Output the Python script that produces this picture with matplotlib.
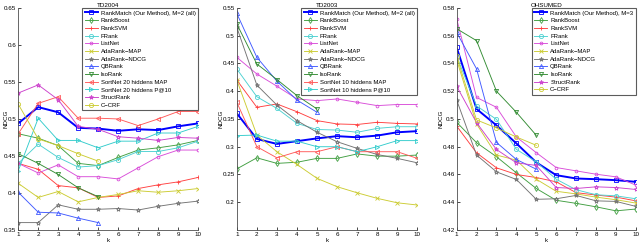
import numpy as np
import matplotlib
matplotlib.use('Agg')
import matplotlib.pyplot as plt
from matplotlib.ticker import FuncFormatter

# eixo k (NDCG@k)
k = [1, 2, 3, 4, 5, 6, 7, 8, 9, 10]
k5 = [1, 2, 3, 4, 5]

# ---------------- TD2004 ----------------
td04_rankmatch = [0.494, 0.516, 0.509, 0.488, 0.487, 0.484, 0.486, 0.485, 0.490, 0.494]
td04_rankboost = [0.480, 0.474, 0.464, 0.440, 0.437, 0.448, 0.458, 0.461, 0.465, 0.471]
td04_ranksvm = [0.440, 0.432, 0.410, 0.407, 0.394, 0.396, 0.406, 0.411, 0.415, 0.421]
td04_frank = [0.440, 0.466, 0.448, 0.435, 0.437, 0.445, 0.456, 0.456, 0.461, 0.470]
td04_listnet = [0.440, 0.427, 0.438, 0.422, 0.422, 0.419, 0.434, 0.449, 0.458, 0.458]
td04_adamap = [0.413, 0.394, 0.402, 0.388, 0.394, 0.398, 0.403, 0.401, 0.403, 0.406]
td04_adandcg = [0.360, 0.360, 0.384, 0.378, 0.378, 0.379, 0.377, 0.382, 0.386, 0.389]
td04_qbrank = [0.401, 0.374, 0.373, 0.366, 0.360]
td04_isorank = [0.453, 0.440, 0.425, 0.407, 0.395]
td04_sortmap = [0.480, 0.521, 0.530, 0.501, 0.501, 0.500, 0.491, 0.500, 0.510, 0.510]
td04_sortp10 = [0.430, 0.501, 0.471, 0.471, 0.461, 0.470, 0.470, 0.481, 0.481, 0.490]
td04_struct = [0.535, 0.546, 0.526, 0.490, 0.486, 0.476, 0.474, 0.471, 0.475, 0.474]
td04_ccrf = [0.520, 0.473, 0.464, 0.453, 0.443]

# ---------------- TD2003 ----------------
td03_rankmatch = [0.360, 0.314, 0.305, 0.310, 0.315, 0.319, 0.317, 0.320, 0.326, 0.328]
td03_rankboost = [0.260, 0.280, 0.270, 0.272, 0.279, 0.279, 0.287, 0.283, 0.283, 0.285]
td03_ranksvm = [0.420, 0.371, 0.377, 0.363, 0.347, 0.341, 0.340, 0.344, 0.342, 0.341]
td03_frank = [0.440, 0.390, 0.369, 0.342, 0.331, 0.330, 0.326, 0.333, 0.336, 0.336]
td03_listnet = [0.461, 0.431, 0.409, 0.386, 0.383, 0.386, 0.380, 0.374, 0.376, 0.376]
td03_adamap = [0.420, 0.321, 0.291, 0.268, 0.243, 0.228, 0.217, 0.207, 0.199, 0.195]
td03_adandcg = [0.515, 0.411, 0.375, 0.347, 0.326, 0.309, 0.297, 0.286, 0.279, 0.271]
td03_qbrank = [0.540, 0.461, 0.418, 0.384, 0.362]
td03_isorank = [0.521, 0.449, 0.421, 0.392, 0.368]
td03_sortmap = [0.380, 0.300, 0.280, 0.291, 0.291, 0.300, 0.291, 0.291, 0.291, 0.279]
td03_sortp10 = [0.320, 0.321, 0.310, 0.310, 0.300, 0.300, 0.291, 0.300, 0.311, 0.311]

# ---------------- OHSUMED ----------------
oh_rankmatch = [0.5516, 0.5072, 0.4954, 0.4824, 0.4687, 0.4595, 0.4571, 0.4566, 0.4559, 0.4547]
oh_rankboost = [0.4976, 0.4829, 0.4728, 0.4612, 0.4499, 0.4414, 0.4392, 0.4367, 0.4338, 0.4351]
oh_ranksvm = [0.4949, 0.4756, 0.4648, 0.4600, 0.4578, 0.4547, 0.4469, 0.4452, 0.4437, 0.4410]
oh_frank = [0.5451, 0.5094, 0.4997, 0.4781, 0.4691, 0.4566, 0.4490, 0.4454, 0.4446, 0.4425]
oh_listnet = [0.5723, 0.5155, 0.5084, 0.4870, 0.4757, 0.4650, 0.4626, 0.4602, 0.4583, 0.4523]
oh_adamap = [0.5426, 0.4964, 0.4740, 0.4703, 0.4566, 0.4479, 0.4460, 0.4437, 0.4418, 0.4394]
oh_adandcg = [0.5137, 0.4740, 0.4619, 0.4564, 0.4421, 0.4425, 0.4449, 0.4410, 0.4406, 0.4370]
oh_qbrank = [0.5624, 0.5361, 0.4831, 0.4708, 0.4638]
oh_isorank = [0.5650, 0.5564, 0.5200, 0.5048, 0.4882]
oh_struct = [0.5236, 0.4973, 0.4780, 0.4684, 0.4665, 0.4506, 0.4499, 0.4511, 0.4506, 0.4492]
oh_ccrf = [0.5451, 0.4993, 0.4935, 0.4870, 0.4810]

# estilos (cor, marcador) de cada metodo
BLUE = (0.0, 0.0, 1.0)
styles = {
    'rankmatch': (BLUE, 's'),
    'rankboost': ((0.25, 0.62, 0.25), 'd'),
    'ranksvm': ((1.0, 0.25, 0.25), '+'),
    'frank': ((0.3, 0.82, 0.82), 'o'),
    'listnet': ((0.85, 0.3, 0.85), '.'),
    'adamap': ((0.8, 0.8, 0.2), 'x'),
    'adandcg': ((0.45, 0.45, 0.45), '*'),
    'qbrank': ((0.25, 0.35, 1.0), '^'),
    'isorank': ((0.2, 0.55, 0.2), 'v'),
    'sortmap': ((1.0, 0.35, 0.35), '<'),
    'sortp10': ((0.2, 0.8, 0.8), '>'),
    'struct': ((0.8, 0.25, 0.8), '*'),
    'ccrf': ((0.8, 0.8, 0.2), 'o'),
}

FS = 4.5
FS_LEG = 4.3


def plot_line(ax, x, y, key, label):
    cor, mk = styles[key]
    lw = 1.4 if key == 'rankmatch' else 0.65
    ms = 3.0 if mk not in ('.', '+', 'x', '*') else 3.2
    if mk == '.':
        ms = 4.0
    ax.plot(x, y, color=cor, marker=mk, lw=lw, ms=ms, mew=0.6,
            mfc='none', label=label)


def setup_axes(ax, titulo, ylim, yticks, ylab_x):
    ax.set_xlim(1, 10)
    ax.set_ylim(*ylim)
    ax.set_xticks(k)
    ax.set_yticks(yticks)
    ax.yaxis.set_major_formatter(FuncFormatter(lambda v, p: '%g' % round(v, 3)))
    ax.tick_params(direction='in', length=2, width=0.5, labelsize=FS, pad=1.5)
    for s in ['top', 'right']:
        ax.spines[s].set_visible(False)
    for s in ['left', 'bottom']:
        ax.spines[s].set_linewidth(0.6)
        ax.spines[s].set_color('0.3')
    ax.set_title(titulo, fontsize=FS, pad=1)
    ax.set_xlabel('k', fontsize=FS, labelpad=0.5)
    ax.set_ylabel('NDCG', fontsize=FS)
    ax.yaxis.set_label_coords(ylab_x, 0.5)
    leg = ax.legend(loc='upper right', fontsize=FS_LEG, frameon=True, fancybox=False,
                    borderaxespad=0, handlelength=2.2, handletextpad=0.5,
                    labelspacing=0.42, borderpad=0.42)
    leg.get_frame().set_edgecolor('0.2')
    leg.get_frame().set_linewidth(0.8)


def main():
    plt.rcParams['font.family'] = ['Liberation Sans', 'DejaVu Sans']
    fig = plt.figure(figsize=(6.4, 2.43), dpi=100)
    ax1 = fig.add_axes([0.0285, 0.0535, 0.281, 0.914])
    ax2 = fig.add_axes([0.370, 0.0535, 0.282, 0.914])
    ax3 = fig.add_axes([0.7135, 0.0535, 0.280, 0.914])

    # TD2004
    plot_line(ax1, k, td04_rankmatch, 'rankmatch', 'RankMatch (Our Method), M=2 (all)')
    plot_line(ax1, k, td04_rankboost, 'rankboost', 'RankBoost')
    plot_line(ax1, k, td04_ranksvm, 'ranksvm', 'RankSVM')
    plot_line(ax1, k, td04_frank, 'frank', 'FRank')
    plot_line(ax1, k, td04_listnet, 'listnet', 'ListNet')
    plot_line(ax1, k, td04_adamap, 'adamap', 'AdaRank\u2212MAP')
    plot_line(ax1, k, td04_adandcg, 'adandcg', 'AdaRank\u2212NDCG')
    plot_line(ax1, k5, td04_qbrank, 'qbrank', 'QBRank')
    plot_line(ax1, k5, td04_isorank, 'isorank', 'IsoRank')
    plot_line(ax1, k, td04_sortmap, 'sortmap', 'SortNet 20 hiddens MAP')
    plot_line(ax1, k, td04_sortp10, 'sortp10', 'SortNet 20 hiddens P@10')
    plot_line(ax1, k, td04_struct, 'struct', 'StructRank')
    plot_line(ax1, k5, td04_ccrf, 'ccrf', 'C\u2212CRF')
    setup_axes(ax1, 'TD2004', (0.35, 0.65), np.arange(0.35, 0.651, 0.05), -0.055)

    # TD2003
    plot_line(ax2, k, td03_rankmatch, 'rankmatch', 'RankMatch (Our Method), M=2 (all)')
    plot_line(ax2, k, td03_rankboost, 'rankboost', 'RankBoost')
    plot_line(ax2, k, td03_ranksvm, 'ranksvm', 'RankSVM')
    plot_line(ax2, k, td03_frank, 'frank', 'FRank')
    plot_line(ax2, k, td03_listnet, 'listnet', 'ListNet')
    plot_line(ax2, k, td03_adamap, 'adamap', 'AdaRank\u2212MAP')
    plot_line(ax2, k, td03_adandcg, 'adandcg', 'AdaRank\u2212NDCG')
    plot_line(ax2, k5, td03_qbrank, 'qbrank', 'QBRank')
    plot_line(ax2, k5, td03_isorank, 'isorank', 'IsoRank')
    plot_line(ax2, k, td03_sortmap, 'sortmap', 'SortNet 10 hiddens MAP')
    plot_line(ax2, k, td03_sortp10, 'sortp10', 'SortNet 10 hiddens P@10')
    setup_axes(ax2, 'TD2003', (0.15, 0.55), np.arange(0.2, 0.551, 0.05), -0.075)

    # OHSUMED
    plot_line(ax3, k, oh_rankmatch, 'rankmatch', 'RankMatch (Our Method), M=3')
    plot_line(ax3, k, oh_rankboost, 'rankboost', 'RankBoost')
    plot_line(ax3, k, oh_ranksvm, 'ranksvm', 'RankSVM')
    plot_line(ax3, k, oh_frank, 'frank', 'FRank')
    plot_line(ax3, k, oh_listnet, 'listnet', 'ListNet')
    plot_line(ax3, k, oh_adamap, 'adamap', 'AdaRank\u2212MAP')
    plot_line(ax3, k, oh_adandcg, 'adandcg', 'AdaRank\u2212NDCG')
    plot_line(ax3, k5, oh_qbrank, 'qbrank', 'QBRank')
    plot_line(ax3, k5, oh_isorank, 'isorank', 'IsoRank')
    plot_line(ax3, k, oh_struct, 'struct', 'StructRank')
    plot_line(ax3, k5, oh_ccrf, 'ccrf', 'C\u2212CRF')
    setup_axes(ax3, 'OHSUMED', (0.42, 0.58), np.arange(0.42, 0.581, 0.02), -0.075)

    fig.savefig('out.png', dpi=100)


if __name__ == "__main__":
    main()
